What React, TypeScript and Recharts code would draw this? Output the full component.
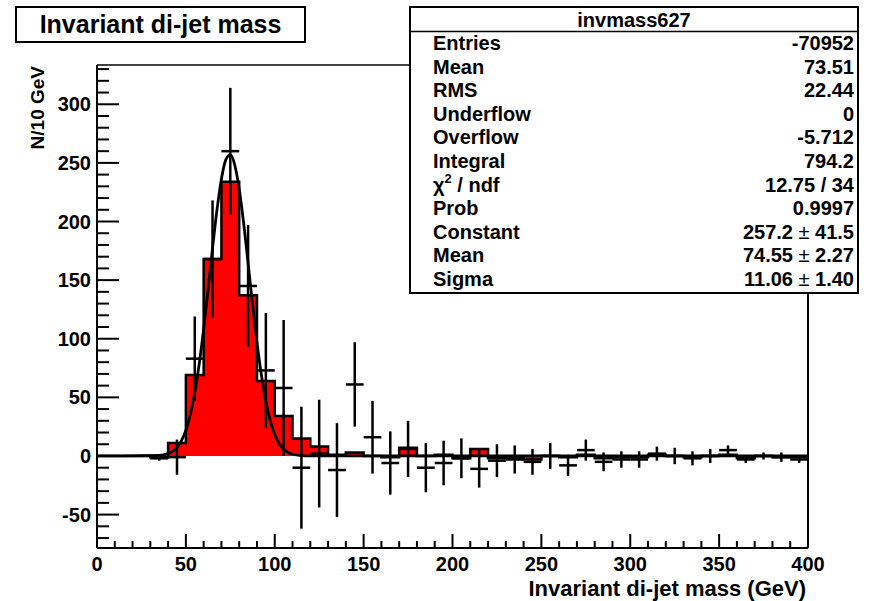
import { ComposedChart, Area, Line, Scatter, ErrorBar, XAxis, YAxis } from "recharts";

// lower edges of the 10 GeV bins, red histogram contents
const binEdges = [
  0, 10, 20, 30, 40, 50, 60, 70, 80, 90, 100, 110, 120, 130, 140, 150, 160, 170, 180, 190,
  200, 210, 220, 230, 240, 250, 260, 270, 280, 290, 300, 310, 320, 330, 340, 350, 360, 370, 380, 390,
];
const histCounts = [
  0, 0, 0, -1, 11, 69, 168, 234, 137, 64, 34, 15, 8, 1, 3, 0, -1, 7, 0, 1,
  -2, 6, -2, -2, -3, 0, -1, 1, -2, -1, -1, 1, 0, -1, 0, 1, -2, 0, -1, -1,
];

// points with errors (bin centres)
const pointX = [
  35, 45, 55, 65, 75, 85, 95, 105, 115, 125, 135, 145, 155, 165, 175, 185, 195, 205, 215, 225,
  235, 245, 255, 265, 275, 285, 295, 305, 315, 325, 335, 345, 355, 365, 375, 385, 395,
];
const pointY = [
  -2, -1, 83, 168, 260, 145, 73, 58, -10, 2, -12, 61, 16, -6, 6, -10, -6, -2, -11, -4,
  -3, -5, 0, -8, 5, -5, -3, -3, 2, 0, -2, 0, 5, -3, 0, -1, -3,
];
const pointErr = [
  2, 15, 36, 50, 54, 52, 49, 58, 52, 46, 40, 36, 31, 27, 24, 21, 19, 17, 16, 14,
  12, 11, 11, 9, 9, 8, 7, 7, 6, 7, 6, 6, 4, 3, 3, 4, 3,
];

// gaussian fit curve
const fitX = [
  0, 35, 40, 42.5, 45, 47.5, 50, 52.5, 55, 57.5, 60, 62.5, 65, 67.5, 70, 72.5, 75, 77.5, 80,
  82.5, 85, 87.5, 90, 92.5, 95, 97.5, 100, 102.5, 105, 107.5, 110, 115, 120, 400,
];
const fitY = [
  0, 0.4, 2, 3.9, 7.2, 12.9, 21.9, 35.2, 53.9, 78.4, 108.3, 142.1, 177.2, 209.9, 236.3, 252.8, 257, 248.2, 227.8,
  198.7, 164.6, 129.6, 96.9, 68.9, 46.6, 29.9, 18.2, 10.5, 5.8, 3, 1.5, 0.3, 0, 0,
];

const xTicks = Array.from({ length: 41 }, (_, i) => i * 10);
const yTicks = Array.from({ length: 41 }, (_, i) => -70 + i * 10);

const statLabels = [
  "Entries", "Mean", "RMS", "Underflow", "Overflow", "Integral", "chi2", "Prob", "Constant", "Mean", "Sigma",
];
const statValues = [
  "-70952", "73.51", "22.44", "0", "-5.712", "794.2", "12.75 / 34", "0.9997", "257.2 ± 41.5", "74.55 ± 2.27", "11.06 ± 1.40",
];

const histData = [
  ...binEdges.map((x, i) => ({ x, h: histCounts[i] })),
  { x: 400, h: histCounts[histCounts.length - 1] },
];
const fitData = fitX.map((x, i) => ({ x, f: fitY[i] }));
const pointData = pointX.map((x, i) => ({ x, y: pointY[i], ex: 5, ey: pointErr[i] }));

const FONT = "'Liberation Sans', Arial, Helvetica, sans-serif";

const XTick = (props: any) => {
  const { x, y, payload } = props;
  const v = payload.value;
  const major = v % 50 === 0;
  return (
    <g>
      <line x1={x} x2={x} y1={y} y2={y - (major ? 14 : 7)} stroke="#000" strokeWidth={2} />
      {major && (
        <text x={x} y={y + 23} textAnchor="middle" fontFamily={FONT} fontWeight="bold" fontSize={20} fill="#000">
          {v}
        </text>
      )}
    </g>
  );
};

const YTick = (props: any) => {
  const { x, y, payload } = props;
  const v = payload.value;
  const major = v % 50 === 0;
  return (
    <g>
      <line x1={x} x2={x + (major ? 22 : 12)} y1={y} y2={y} stroke="#000" strokeWidth={2} />
      {major && (
        <text x={x - 6} y={y + 7} textAnchor="end" fontFamily={FONT} fontWeight="bold" fontSize={20} fill="#000">
          {v}
        </text>
      )}
    </g>
  );
};

const StatValue = ({ text, x, y }: { text: string; x: number; y: number }) => {
  const parts = text.split(" ± ");
  return (
    <text x={x} y={y} textAnchor="end" fontFamily={FONT} fontWeight="bold" fontSize={20} fill="#000">
      {parts.length === 2 ? (
        <>
          {parts[0]}
          <tspan fontWeight="normal">{" ± "}</tspan>
          {parts[1]}
        </>
      ) : (
        text
      )}
    </text>
  );
};

export default function App() {
  return (
    <div style={{ position: "absolute", left: 0, top: 0, width: 882, height: 601, background: "#fff" }}>
      <ComposedChart
        width={882}
        height={601}
        data={histData}
        margin={{ top: 60, right: 69, bottom: 23, left: 57 }}
      >
        <XAxis
          dataKey="x"
          type="number"
          domain={[0, 400]}
          allowDataOverflow
          ticks={xTicks}
          interval={0}
          tick={<XTick />}
          tickLine={false}
          tickSize={0}
          tickMargin={0}
          height={30}
          axisLine={{ stroke: "#000", strokeWidth: 2 }}
        />
        <XAxis
          xAxisId="top"
          orientation="top"
          type="number"
          domain={[0, 400]}
          tick={false}
          tickLine={false}
          height={5}
          axisLine={{ stroke: "#000", strokeWidth: 1.5 }}
        />
        <YAxis
          type="number"
          domain={[-78.5, 333.5]}
          allowDataOverflow
          ticks={yTicks}
          interval={0}
          tick={<YTick />}
          tickLine={false}
          tickSize={0}
          tickMargin={0}
          width={40}
          axisLine={{ stroke: "#000", strokeWidth: 2 }}
        />
        <YAxis
          yAxisId="right"
          orientation="right"
          type="number"
          domain={[-78.5, 333.5]}
          tick={false}
          tickLine={false}
          width={5}
          axisLine={{ stroke: "#000", strokeWidth: 2 }}
        />
        <Area
          dataKey="h"
          type="stepAfter"
          baseValue={0}
          fill="#ff0000"
          fillOpacity={1}
          stroke="#000"
          strokeWidth={2.5}
          isAnimationActive={false}
          dot={false}
          activeDot={false}
        />
        <Line
          data={fitData}
          dataKey="f"
          type="monotone"
          stroke="#000"
          strokeWidth={2.8}
          dot={false}
          activeDot={false}
          isAnimationActive={false}
        />
        <Scatter data={pointData} dataKey="y" shape={() => <g />} isAnimationActive={false}>
          <ErrorBar dataKey="ey" direction="y" width={0} stroke="#000" strokeWidth={2.5} />
          <ErrorBar dataKey="ex" direction="x" width={0} stroke="#000" strokeWidth={2.5} />
        </Scatter>
      </ComposedChart>

      <svg width={882} height={601} style={{ position: "absolute", left: 0, top: 0, pointerEvents: "none" }}>
        {/* title box */}
        <rect x={16} y={7} width={289} height={35} fill="#fff" stroke="#000" strokeWidth={2} />
        <line x1={16} x2={306} y1={42} y2={42} stroke="#000" strokeWidth={2} />
        <line x1={305} x2={305} y1={7} y2={43} stroke="#000" strokeWidth={2} />
        <text x={160.5} y={33} textAnchor="middle" fontFamily={FONT} fontWeight="bold" fontSize={25} fill="#000">
          Invariant di-jet mass
        </text>

        {/* stats box */}
        <rect x={410} y={7} width={448} height={286} fill="#fff" stroke="#000" strokeWidth={2} />
        <line x1={410} x2={859} y1={293} y2={293} stroke="#000" strokeWidth={2} />
        <line x1={410} x2={858} y1={31.5} y2={31.5} stroke="#000" strokeWidth={1.5} />
        <text x={634} y={27} textAnchor="middle" fontFamily={FONT} fontWeight="bold" fontSize={20} fill="#000">
          invmass627
        </text>
        {statLabels.map((l, i) => (
          <text
            key={"l" + i}
            x={433}
            y={50 + i * 23.6}
            fontFamily={FONT}
            fontWeight="bold"
            fontSize={20}
            fill="#000"
          >
            {l === "chi2" ? (
              <>
                χ<tspan fontSize={13} dy={-9}>2</tspan>
                <tspan dy={9}>{" / ndf"}</tspan>
              </>
            ) : (
              l
            )}
          </text>
        ))}
        {statValues.map((v, i) => (
          <StatValue key={"v" + i} text={v} x={854} y={50 + i * 23.6} />
        ))}

        {/* axis titles */}
        <text
          x={44}
          y={66}
          transform="rotate(-90 44 66)"
          textAnchor="end"
          fontFamily={FONT}
          fontWeight="bold"
          fontSize={19}
          fill="#000"
        >
          N/10 GeV
        </text>
        <text x={806} y={596} textAnchor="end" fontFamily={FONT} fontWeight="bold" fontSize={22} fill="#000">
          Invariant di-jet mass (GeV)
        </text>
      </svg>
    </div>
  );
}
